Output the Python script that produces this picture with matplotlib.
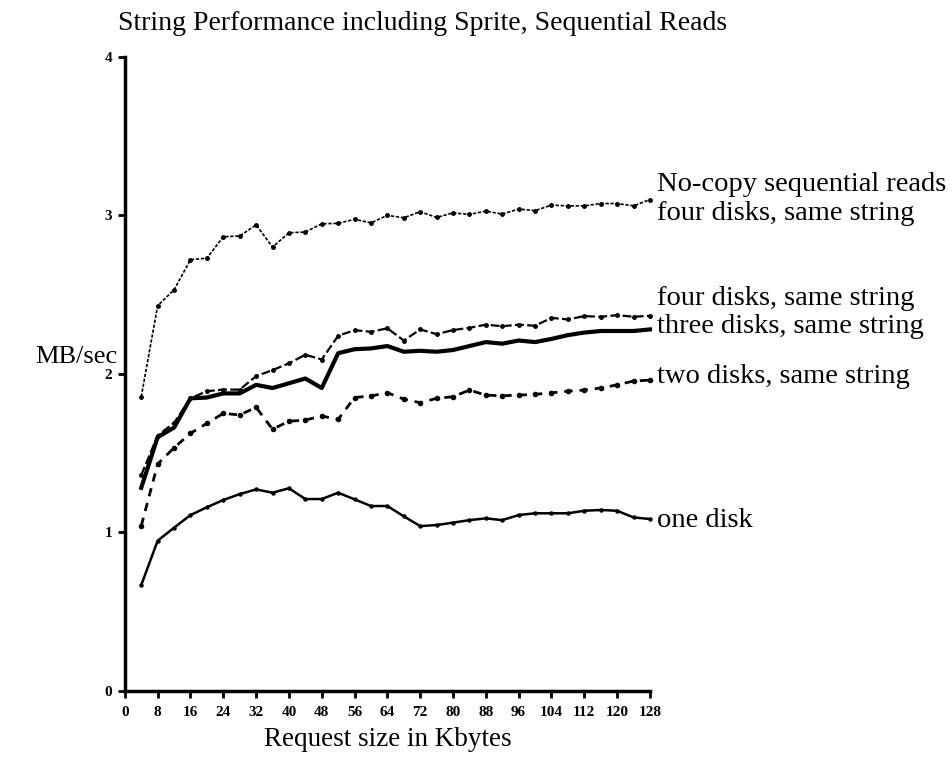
import numpy as np
import matplotlib
matplotlib.use("Agg")
import matplotlib.pyplot as plt

# request sizes in Kbytes (4 .. 128, step 4)
sizes = list(range(4, 132, 4))

nocopy_four = [1.855, 2.43, 2.53, 2.72, 2.73, 2.865, 2.87, 2.94, 2.80, 2.89, 2.895, 2.947,
               2.95, 2.975, 2.953, 3.00, 2.985, 3.023, 2.987, 3.016, 3.006, 3.027, 3.008, 3.04,
               3.03, 3.065, 3.06, 3.06, 3.075, 3.075, 3.06, 3.10]
four_disks = [1.36, 1.61, 1.69, 1.845, 1.89, 1.90, 1.90, 1.985, 2.023, 2.066, 2.12, 2.09,
              2.24, 2.275, 2.265, 2.287, 2.21, 2.28, 2.25, 2.276, 2.29, 2.31, 2.30, 2.31,
              2.303, 2.353, 2.343, 2.364, 2.36, 2.37, 2.36, 2.366]
three_disks = [1.28, 1.60, 1.66, 1.845, 1.85, 1.876, 1.876, 1.93, 1.91, 1.94, 1.97, 1.91,
               2.13, 2.155, 2.16, 2.175, 2.139, 2.145, 2.139, 2.15, 2.175, 2.20, 2.19, 2.21,
               2.20, 2.22, 2.244, 2.26, 2.27, 2.27, 2.27, 2.28]
two_disks = [1.04, 1.43, 1.533, 1.624, 1.687, 1.75, 1.74, 1.788, 1.65, 1.70, 1.708, 1.733,
             1.712, 1.85, 1.86, 1.88, 1.84, 1.817, 1.845, 1.855, 1.897, 1.865, 1.861, 1.865,
             1.87, 1.88, 1.89, 1.897, 1.91, 1.93, 1.954, 1.96]
one_disk = [0.666, 0.946, 1.028, 1.108, 1.157, 1.203, 1.24, 1.27, 1.249, 1.277, 1.209, 1.209,
            1.249, 1.207, 1.165, 1.165, 1.10, 1.038, 1.045, 1.06, 1.076, 1.087, 1.076, 1.108,
            1.119, 1.119, 1.119, 1.135, 1.14, 1.135, 1.093, 1.083]

xticks = list(range(0, 129, 8))
yticks = [0, 1, 2, 3, 4]

plt.rcParams['font.family'] = ['Liberation Serif', 'DejaVu Serif']

fig = plt.figure(figsize=(9.53, 7.61), dpi=100)
ax = fig.add_axes([0.131, 0.0926, 0.551, 0.8325])

X = np.array(sizes)
# No-copy: thin dotted line with dots
ax.plot(X, nocopy_four, color="black", linewidth=1.2, linestyle=(0, (2, 1)),
        marker="o", markersize=2.5, clip_on=False)
# four disks: thin dash-dot with dots
ax.plot(X, four_disks, color="black", linewidth=1.6, linestyle=(0, (4, 1.5)),
        marker="o", markersize=2.5, clip_on=False)
# three disks: thick solid
ax.plot(X, three_disks, color="black", linewidth=3.0, linestyle="-", clip_on=False)
# two disks: dashed with dots
ax.plot(X, two_disks, color="black", linewidth=2.0, linestyle=(0, (3, 2.5)),
        marker="o", markersize=3, clip_on=False)
# one disk: solid
ax.plot(X, one_disk, color="black", linewidth=1.8, linestyle="-",
        marker="o", markersize=2.2, clip_on=False)

ax.set_xlim(0, 128)
ax.set_ylim(0, 4)
ax.spines['top'].set_visible(False)
ax.spines['right'].set_visible(False)
ax.spines['left'].set_linewidth(2.5)
ax.spines['bottom'].set_linewidth(2.5)
ax.set_xticks(xticks)
ax.set_yticks(yticks)
ax.tick_params(axis='x', direction='out', length=5, width=2, pad=6, labelsize=11)
ax.tick_params(axis='y', direction='out', length=5, width=2, pad=4, labelsize=11)
for lab in ax.get_xticklabels() + ax.get_yticklabels():
    lab.set_fontweight("bold")

ax.set_xlabel("Request size in Kbytes", fontsize=19.5, labelpad=6)
fig.text(0.037, 0.531, "MB/sec", fontsize=19, ha="left", va="center")
fig.text(0.124, 0.969, "String Performance including Sprite, Sequential Reads",
         fontsize=20, ha="left", va="center")

# curve labels at the right end
labels = [("No-copy sequential reads", 3.198), ("four disks, same string", 3.015),
          ("four disks, same string", 2.478), ("three disks, same string", 2.301),
          ("two disks, same string", 1.985), ("one disk", 1.076)]
for txt, yv in labels:
    ax.text(129.8, yv, txt, fontsize=20.5, ha="left", va="center", clip_on=False)

fig.savefig("out.png", dpi=100)
